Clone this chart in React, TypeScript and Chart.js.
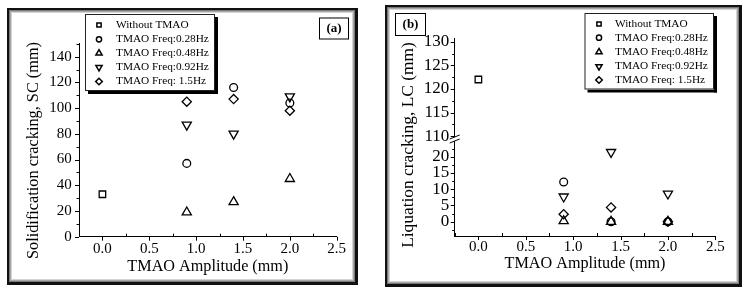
import React, { useEffect, useRef } from 'react';
import { Chart, registerables } from 'chart.js';
import { drawPoint } from 'chart.js/helpers';

Chart.register(...registerables);

const FONT = '"Liberation Serif", "Times New Roman", serif';

// ---------- data ----------
const SERIES_LABELS = [
  'Without TMAO',
  'TMAO Freq:0.28Hz',
  'TMAO Freq:0.48Hz',
  'TMAO Freq:0.92Hz',
  'TMAO Freq: 1.5Hz',
];
const BASE_AMPLITUDE = [0.0];
const AMPLITUDES = [0.9, 1.4, 2.0];

// (a) Solidification cracking, SC (mm)
const SC_WITHOUT = [33];
const SC_F028 = [57, 116, 104];
const SC_F048 = [19, 27, 45];
const SC_F092 = [87, 80, 109];
const SC_F150 = [105, 107, 98];

// (b) Liquation cracking, LC (mm)
const LC_WITHOUT = [122];
const LC_F028 = [12.2, 0, 0];
const LC_F048 = [0.2, 0, 0];
const LC_F092 = [7.7, 21.4, 8.6];
const LC_F150 = [2.3, 4.4, 0];

// tick labels
const X_TICKS = [0, 0.5, 1.0, 1.5, 2.0, 2.5];
const SC_TICKS = [0, 20, 40, 60, 80, 100, 120, 140];
const LC_UPPER_TICKS = [110, 115, 120, 125, 130];
const LC_LOWER_TICKS = [0, 5, 10, 15, 20];

// ---------- styling ----------
type Marker = { pointStyle: string; rotation: number; radius: number; legendRadius: number };
const MARKERS: Marker[] = [
  { pointStyle: 'rect', rotation: 0, radius: 4.6, legendRadius: 3.0 },
  { pointStyle: 'circle', rotation: 0, radius: 3.9, legendRadius: 2.6 },
  { pointStyle: 'triangle', rotation: 0, radius: 5.3, legendRadius: 3.6 },
  { pointStyle: 'triangle', rotation: 180, radius: 5.3, legendRadius: 3.6 },
  { pointStyle: 'rectRot', rotation: 0, radius: 4.6, legendRadius: 3.3 },
];

function pts(xs: number[], ys: number[]) {
  return xs.map((x, i) => ({ x, y: ys[i] }));
}

function makeDataset(i: number, data: any[], yAxisID: string) {
  const m = MARKERS[i];
  return {
    label: SERIES_LABELS[i],
    data,
    xAxisID: 'x',
    yAxisID,
    showLine: false,
    pointStyle: m.pointStyle,
    pointRotation: m.rotation,
    pointRadius: m.radius,
    pointBorderWidth: 1.3,
    pointBorderColor: '#000',
    pointBackgroundColor: 'rgba(0,0,0,0)',
  };
}

function minorsOf(majors: number[], min: number, max: number) {
  const out: number[] = [];
  const step = majors[1] - majors[0];
  const first = majors[0] - step / 2;
  if (first >= min) out.push(first);
  for (let i = 0; i < majors.length - 1; i++) out.push((majors[i] + majors[i + 1]) / 2);
  const last = majors[majors.length - 1] + step / 2;
  if (last <= max) out.push(last);
  return out;
}

const decorPlugin = {
  id: 'decor',
  afterDraw(chart: any, _args: any, o: any) {
    const ctx: CanvasRenderingContext2D = chart.ctx;
    const area = chart.chartArea;
    ctx.save();
    ctx.strokeStyle = '#000';
    ctx.lineWidth = 1;

    // tick marks
    for (const t of o.tickMarks || []) {
      const s = chart.scales[t.scale];
      const majors: number[] = t.majors;
      const minors = minorsOf(majors, s.min, s.max);
      const vertical = !s.isHorizontal();
      const drawOne = (v: number, len: number, dir: number) => {
        const p = Math.round(s.getPixelForValue(v)) + 0.5;
        ctx.beginPath();
        if (vertical) {
          const ax = area.left;
          ctx.moveTo(ax, p);
          ctx.lineTo(ax - dir * len, p);
        } else {
          const ay = area.bottom;
          ctx.moveTo(p, ay);
          ctx.lineTo(p, ay + dir * len);
        }
        ctx.stroke();
      };
      majors.forEach((v) => drawOne(v, t.majorLen, t.majorDir));
      minors.forEach((v) => drawOne(v, t.minorLen, t.minorDir));
    }

    // axis break
    if (o.breakScale) {
      const s = chart.scales[o.breakScale];
      const by = s.top;
      const ax = area.left;
      ctx.fillStyle = '#fff';
      ctx.beginPath();
      ctx.moveTo(ax - 5, by + 1);
      ctx.lineTo(ax + 5, by - 3);
      ctx.lineTo(ax + 5, by + 1);
      ctx.lineTo(ax - 5, by + 5);
      ctx.closePath();
      ctx.fill();
      ctx.beginPath();
      ctx.moveTo(ax - 5, by + 1);
      ctx.lineTo(ax + 5, by - 3);
      ctx.moveTo(ax - 5, by + 5);
      ctx.lineTo(ax + 5, by + 1);
      ctx.stroke();
    }

    // y title
    if (o.yTitle) {
      const yt = o.yTitle;
      ctx.save();
      ctx.translate(yt.x, yt.y);
      ctx.rotate(-Math.PI / 2);
      ctx.fillStyle = '#000';
      ctx.font = `${yt.size}px ${FONT}`;
      ctx.textAlign = 'center';
      ctx.textBaseline = 'middle';
      ctx.fillText(yt.text, 0, 0);
      ctx.restore();
    }

    // panel label box
    if (o.tag) {
      const g = o.tag;
      ctx.fillStyle = '#fff';
      ctx.fillRect(g.x, g.y, g.w, g.h);
      ctx.strokeStyle = '#000';
      ctx.lineWidth = 1;
      ctx.strokeRect(g.x + 0.5, g.y + 0.5, g.w - 1, g.h - 1);
      ctx.fillStyle = '#000';
      ctx.font = `bold ${g.size}px ${FONT}`;
      ctx.textAlign = 'center';
      ctx.textBaseline = 'middle';
      ctx.fillText(g.text, g.x + g.w / 2, g.y + g.h / 2 + 0.5);
    }

    // legend
    if (o.legend) {
      const L = o.legend;
      ctx.fillStyle = '#000';
      ctx.fillRect(L.x + 3, L.y + L.h, L.w, 3);
      ctx.fillRect(L.x + L.w, L.y + 3, 3, L.h);
      ctx.fillStyle = '#fff';
      ctx.fillRect(L.x, L.y, L.w, L.h);
      ctx.strokeStyle = '#222';
      ctx.lineWidth = 1;
      ctx.strokeRect(L.x + 0.5, L.y + 0.5, L.w - 1, L.h - 1);
      chart.data.datasets.forEach((ds: any, i: number) => {
        const ry = L.rows[i];
        const m = MARKERS[i];
        ctx.strokeStyle = '#000';
        ctx.fillStyle = 'rgba(0,0,0,0)';
        ctx.lineWidth = 1.5;
        drawPoint(ctx, { pointStyle: m.pointStyle as any, rotation: m.rotation, radius: m.legendRadius, borderWidth: 1.5 } as any, L.symX, ry);
        ctx.fillStyle = '#000';
        ctx.font = `${L.size}px ${FONT}`;
        ctx.textAlign = 'left';
        ctx.textBaseline = 'middle';
        ctx.fillText(ds.label, L.textX, ry);
      });
    }
    ctx.restore();
  },
};

function xScale(height: number, tickPad: number) {
  return {
    type: 'linear',
    position: 'bottom',
    min: -0.25,
    max: 2.5,
    afterFit: (s: any) => {
      s.height = height;
    },
    afterBuildTicks: (s: any) => {
      s.ticks = X_TICKS.map((value) => ({ value }));
    },
    grid: { display: true, drawOnChartArea: false, drawTicks: false },
    border: { display: true, color: '#000', width: 1 },
    ticks: {
      font: { family: FONT, size: 15 },
      color: '#000',
      padding: tickPad,
      maxRotation: 0,
      autoSkip: false,
      callback: (v: any) => Number(v).toFixed(1),
    },
    title: {
      display: true,
      text: 'TMAO Amplitude (mm)',
      font: { family: FONT, size: 16.2 },
      color: '#000',
      padding: { top: 0, bottom: 0 },
    },
  };
}

function yScale(min: number, max: number, majors: number[], width: number, pad: number, size: number, extra: any = {}) {
  return {
    type: 'linear',
    position: 'left',
    min,
    max,
    afterFit: (s: any) => {
      s.width = width;
    },
    afterBuildTicks: (s: any) => {
      s.ticks = majors.map((value) => ({ value }));
    },
    grid: { display: true, drawOnChartArea: false, drawTicks: false },
    border: { display: true, color: '#000', width: 1 },
    ticks: {
      font: { family: FONT, size },
      color: '#000',
      padding: pad,
      autoSkip: false,
      callback: (v: any) => String(v),
    },
    ...extra,
  };
}

// panel geometry (page px)
const A_CANVAS = { left: 12, top: 13, width: 340, height: 266 };
const B_CANVAS = { left: 390, top: 10, width: 346, height: 271 };

const configA: any = {
  type: 'scatter',
  data: {
    datasets: [
      makeDataset(0, pts(BASE_AMPLITUDE, SC_WITHOUT), 'y'),
      makeDataset(1, pts(AMPLITUDES, SC_F028), 'y'),
      makeDataset(2, pts(AMPLITUDES, SC_F048), 'y'),
      makeDataset(3, pts(AMPLITUDES, SC_F092), 'y'),
      makeDataset(4, pts(AMPLITUDES, SC_F150), 'y'),
    ],
  },
  options: {
    animation: false,
    responsive: false,
    devicePixelRatio: 1,
    events: [],
    layout: { padding: { left: 7, top: 30.8, right: 15.3, bottom: 2.2 } },
    plugins: {
      legend: { display: false },
      tooltip: { enabled: false },
      decor: {
        tickMarks: [
          { scale: 'x', majors: X_TICKS, majorLen: 4, majorDir: 1, minorLen: 3, minorDir: -1 },
          { scale: 'y', majors: SC_TICKS, majorLen: 4, majorDir: 1, minorLen: 2.5, minorDir: 1 },
        ],
        yTitle: { text: 'Solidification cracking, SC (mm)', x: 21.3, y: 137.5, size: 16.3 },
        tag: { text: '(a)', x: 307, y: 4.5, w: 30, h: 22, size: 13 },
        legend: {
          x: 73, y: 1, w: 130, h: 77, symX: 87, textX: 104, size: 11.3,
          rows: [12, 26.3, 40.3, 54.3, 68.5],
        },
      },
    },
    scales: {
      x: xScale(40.1, 3),
      y: yScale(0, 150, SC_TICKS, 60, 7.3, 15),
    },
  },
  plugins: [decorPlugin],
};

const configB: any = {
  type: 'scatter',
  data: {
    datasets: [
      makeDataset(0, pts(BASE_AMPLITUDE, LC_WITHOUT), 'yUpper'),
      makeDataset(1, pts(AMPLITUDES, LC_F028), 'yLower'),
      makeDataset(2, pts(AMPLITUDES, LC_F048), 'yLower'),
      makeDataset(3, pts(AMPLITUDES, LC_F092), 'yLower'),
      makeDataset(4, pts(AMPLITUDES, LC_F150), 'yLower'),
    ],
  },
  options: {
    animation: false,
    responsive: false,
    devicePixelRatio: 1,
    events: [],
    layout: { padding: { left: 9.7, top: 28, right: 20.7, bottom: 7.3 } },
    plugins: {
      legend: { display: false },
      tooltip: { enabled: false },
      decor: {
        tickMarks: [
          { scale: 'x', majors: X_TICKS, majorLen: 4, majorDir: 1, minorLen: 3, minorDir: -1 },
          { scale: 'yUpper', majors: LC_UPPER_TICKS, majorLen: 4, majorDir: 1, minorLen: 2.5, minorDir: 1 },
          { scale: 'yLower', majors: LC_LOWER_TICKS, majorLen: 4, majorDir: 1, minorLen: 2.5, minorDir: 1 },
        ],
        breakScale: 'yLower',
        yTitle: { text: 'Liquation cracking, LC (mm)', x: 18.8, y: 135, size: 17.4 },
        tag: { text: '(b)', x: 5, y: 3, w: 31, h: 23, size: 13 },
        legend: {
          x: 194.5, y: 3, w: 129.5, h: 76.5, symX: 209, textX: 225, size: 11.3,
          rows: [14, 27.7, 42, 56.5, 70],
        },
      },
    },
    scales: {
      x: xScale(37.7, 2),
      yLower: yScale(-4.4, 25.75, LC_LOWER_TICKS, 55, 5.4, 17, { stack: 'lc', stackWeight: 98 }),
      yUpper: yScale(109.6, 130.8, LC_UPPER_TICKS, 55, 5.4, 17, { stack: 'lc', stackWeight: 100 }),
    },
  },
  plugins: [decorPlugin],
};

function ChartCanvas({ config, box }: { config: any; box: { left: number; top: number; width: number; height: number } }) {
  const ref = useRef<HTMLCanvasElement>(null);
  useEffect(() => {
    const chart = new Chart(ref.current as HTMLCanvasElement, config);
    return () => chart.destroy();
  }, [config]);
  return (
    <canvas
      ref={ref}
      width={box.width}
      height={box.height}
      style={{ position: 'absolute', left: box.left, top: box.top, width: box.width, height: box.height }}
    />
  );
}

function Frame({ left, top, width, height }: { left: number; top: number; width: number; height: number }) {
  return (
    <div
      style={{
        position: 'absolute',
        left,
        top,
        width,
        height,
        boxSizing: 'border-box',
        borderStyle: 'solid',
        borderColor: '#111',
        borderWidth: '2px 3px 3px 2px',
        boxShadow: 'inset 0 0 0 1px #7a7a7a, inset 0 0 0 2px #a8a8a8, inset 0 0 0 3px #d4d4d4',
        background: '#fff',
      }}
    />
  );
}

export default function App() {
  return (
    <div style={{ position: 'absolute', left: 0, top: 0, width: 744, height: 289, overflow: 'hidden', background: '#fff' }}>
      <Frame left={7} top={8} width={351} height={277} />
      <Frame left={385} top={5} width={357} height={282} />
      <ChartCanvas config={configA} box={A_CANVAS} />
      <ChartCanvas config={configB} box={B_CANVAS} />
    </div>
  );
}
